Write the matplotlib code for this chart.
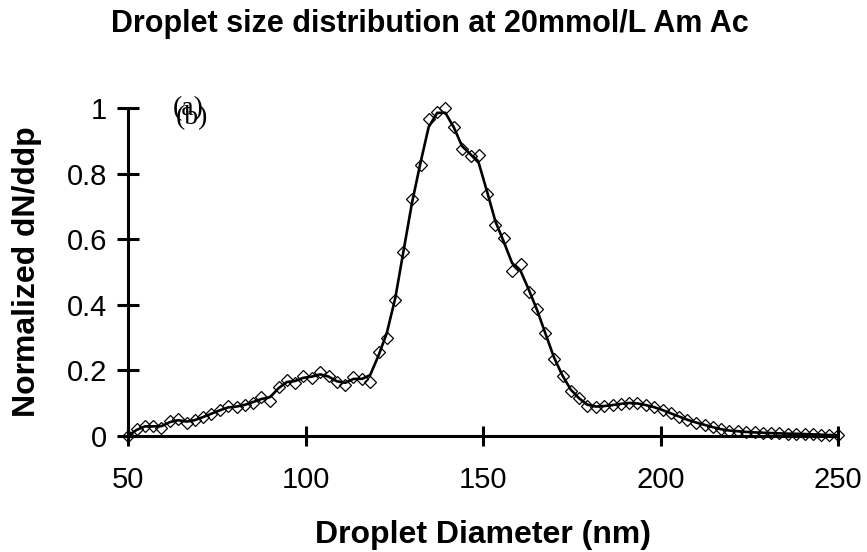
import numpy as np
import matplotlib
matplotlib.use("Agg")
import matplotlib.pyplot as plt

# Droplet diameter (nm)
diameter = [50.0, 52.4, 54.7, 57.1, 59.4, 61.8, 64.1, 66.5, 68.8, 71.2,
            73.5, 75.9, 78.2, 80.6, 82.9, 85.3, 87.6, 90.0, 92.4, 94.7,
            97.1, 99.4, 101.8, 104.1, 106.5, 108.8, 111.2, 113.5, 115.9, 118.2,
            120.6, 122.9, 125.3, 127.6, 130.0, 132.4, 134.7, 137.1, 139.4, 141.8,
            144.1, 146.5, 148.8, 151.2, 153.5, 155.9, 158.2, 160.6, 162.9, 165.3,
            167.6, 170.0, 172.4, 174.7, 177.1, 179.4, 181.8, 184.1, 186.5, 188.8,
            191.2, 193.5, 195.9, 198.2, 200.6, 202.9, 205.3, 207.6, 210.0, 212.4,
            214.7, 217.1, 219.4, 221.8, 224.1, 226.5, 228.8, 231.2, 233.5, 235.9,
            238.2, 240.6, 242.9, 245.3, 247.6, 250.0]

# Normalized dN/ddp
dndp = [0.000, 0.020, 0.032, 0.030, 0.025, 0.045, 0.052, 0.040, 0.048, 0.058,
        0.068, 0.078, 0.090, 0.088, 0.095, 0.102, 0.118, 0.108, 0.150, 0.170,
        0.162, 0.183, 0.176, 0.194, 0.182, 0.166, 0.155, 0.180, 0.175, 0.166,
        0.255, 0.300, 0.415, 0.560, 0.723, 0.826, 0.966, 0.987, 0.999, 0.943,
        0.874, 0.854, 0.857, 0.738, 0.643, 0.603, 0.503, 0.524, 0.440, 0.386,
        0.313, 0.234, 0.183, 0.137, 0.115, 0.091, 0.089, 0.091, 0.094, 0.098,
        0.102, 0.100, 0.094, 0.089, 0.079, 0.069, 0.059, 0.049, 0.041, 0.034,
        0.027, 0.020, 0.016, 0.015, 0.012, 0.011, 0.010, 0.009, 0.008, 0.007,
        0.007, 0.006, 0.005, 0.004, 0.003, 0.002]

x_ticks = [50, 100, 150, 200, 250]
y_ticks = [0, 0.2, 0.4, 0.6, 0.8, 1]
y_tick_labels = ["0", "0.2", "0.4", "0.6", "0.8", "1"]

plt.rcParams['font.family'] = ['Liberation Sans', 'DejaVu Sans']

W, H = 867, 552
fig = plt.figure(figsize=(W / 100, H / 100), dpi=100)
ax = fig.add_axes([128 / W, 1 - 436 / H, (838 - 128) / W, (436 - 108) / H])

x = np.array(diameter)
y = np.array(dndp)
# light 3-point smoothing for the trend line (ends kept)
ys = y.copy()
ys[1:-1] = 0.2 * y[:-2] + 0.6 * y[1:-1] + 0.2 * y[2:]

ax.plot(x, ys, color='black', lw=1.9, zorder=3, clip_on=False)
ax.plot(x, y, linestyle='none', marker='D', ms=5.8, mfc='none', mec='black',
        mew=0.9, zorder=4, clip_on=False)

ax.set_xlim(50, 250)
ax.set_ylim(0, 1)
ax.set_xticks(x_ticks)
ax.set_yticks(y_ticks)
ax.set_yticklabels(y_tick_labels)

for s in ['top', 'right']:
    ax.spines[s].set_visible(False)
for s in ['left', 'bottom']:
    ax.spines[s].set_linewidth(2.2)
ax.tick_params(axis='x', direction='inout', length=15, width=2.2,
               labelsize=21, pad=14)
ax.tick_params(axis='y', direction='inout', length=16, width=2.2,
               labelsize=21, pad=7)

xl = ax.set_xlabel('Droplet Diameter (nm)', fontsize=23, fontweight='bold')
ax.xaxis.set_label_coords(0.5, (436 - 543) / 328)
xl.set_va('baseline')
ax.set_ylabel('Normalized dN/ddp', fontsize=23, fontweight='bold')
ax.yaxis.set_label_coords((42 - 128) / 710, 0.5)

fig.text(430 / W, 1 - 32 / H, 'Droplet size distribution at 20mmol/L Am Ac',
         ha='center', va='baseline', fontsize=22, fontweight='bold')

ax.text(62.7, 0.997, '(a)', family=['Liberation Serif'], fontsize=20,
        ha='left', va='center')
ax.text(63.5, 0.971, '(b)', family=['Liberation Serif'], fontsize=20,
        ha='left', va='center')

fig.savefig('out.png', dpi=100)
